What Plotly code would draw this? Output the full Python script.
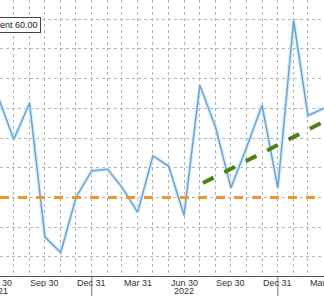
import pandas as pd
import plotly.graph_objects as go

# ---- data ----
months = pd.date_range("2021-06-30", "2023-03-31", freq="ME")
values = [54.8, 51.9, 54.35, 45.35, 44.3, 48.0, 49.8, 49.9, 48.7, 47.0, 50.8, 50.1,
          46.8, 55.55, 52.7, 48.65, 51.4, 54.2, 48.65, 59.9, 53.5, 54.0]
ref_level = 48.0
trend_dates = ["2022-08-06", "2023-03-31"]
trend_values = [48.97, 53.1]
tick_dates = ["2021-09-30", "2021-12-31", "2022-03-31", "2022-06-30",
              "2022-09-30", "2022-12-31", "2023-03-31"]
tick_text = ["Sep 30", "Dec 31", "Mar 31", "Jun 30", "Sep 30", "Dec 31", "Mar 31"]
edge_tick_text = "Jun 30"          # Jun 30 2021, just left of the visible window
year_dates = ["2022-06-30"]
year_text = ["2022"]
edge_year_text = "2021"
year_breaks = ["2021-12-31", "2022-12-31"]

x_range = ["2021-07-04", "2023-03-31 12:00"]
y_range = [42.72, 61.28]

FONT = dict(family="Liberation Sans, Arial", size=9, color="#333")
GRID = "#b4b4b4"

fig = go.Figure()
fig.add_trace(go.Scatter(x=months, y=values, mode="lines",
                         line=dict(color="rgba(200,238,252,0.75)", width=4),
                         hoverinfo="skip", showlegend=False))
fig.add_trace(go.Scatter(x=months, y=values, mode="lines",
                         line=dict(color="#739fc8", width=1.5), showlegend=False))
fig.add_trace(go.Scatter(x=[x_range[0], x_range[1]], y=[ref_level, ref_level], mode="lines",
                         line=dict(color="#f0952c", width=3, dash="dash"), showlegend=False))
fig.add_trace(go.Scatter(x=trend_dates, y=trend_values, mode="lines",
                         line=dict(color="#4f7f17", width=4, dash="dash"), showlegend=False))

fig.update_xaxes(type="date", range=x_range, tickvals=tick_dates, ticktext=tick_text,
                 showticklabels=False,
                 showgrid=True, gridcolor=GRID, griddash="dot", gridwidth=1,
                 minor=dict(tickvals=list(months), showgrid=True, gridcolor=GRID,
                            griddash="dot", gridwidth=1),
                 showline=True, linecolor="#555", linewidth=1, ticks="",
                 zeroline=False, automargin=False)
fig.update_yaxes(range=y_range, dtick=2, tick0=44, showgrid=True, gridcolor=GRID,
                 griddash="dot", gridwidth=1, showticklabels=False, zeroline=False,
                 automargin=False)

for d in year_breaks:
    fig.add_shape(type="line", xref="x", yref="paper", x0=d, x1=d, y0=0, y1=-0.08,
                  line=dict(color="#777", width=1), layer="below")

LBL = dict(showarrow=False, font=FONT, yref="paper", y=0, yanchor="top",
           xanchor="center", height=8, borderpad=0)
# tick labels (as annotations so that the cut-off edge labels show like the reference)
for d, t in zip(tick_dates, tick_text):
    fig.add_annotation(x=d, xref="x", yshift=-2, text=t, **LBL)
for d, t in zip(year_dates, year_text):
    fig.add_annotation(x=d, xref="x", yshift=-10, text=t, **LBL)
fig.add_annotation(x=-0.006, xref="paper", yshift=-2, text=edge_tick_text, **LBL)
fig.add_annotation(x=-0.006, xref="paper", yshift=-10, text=edge_year_text, **LBL)

fig.add_annotation(x=0, xref="paper", xanchor="left", xshift=-3, y=0.908, yref="paper",
                   yanchor="middle",
                   text="ent 60.00", showarrow=False, bgcolor="white",
                   bordercolor="#444", borderwidth=1, borderpad=2,
                   font=dict(family="Liberation Sans, Arial", size=9, color="#222"))

fig.update_layout(width=324, height=296, margin=dict(l=0, r=0, t=0, b=20),
                  paper_bgcolor="white", plot_bgcolor="white")
fig.write_html("out.html")
